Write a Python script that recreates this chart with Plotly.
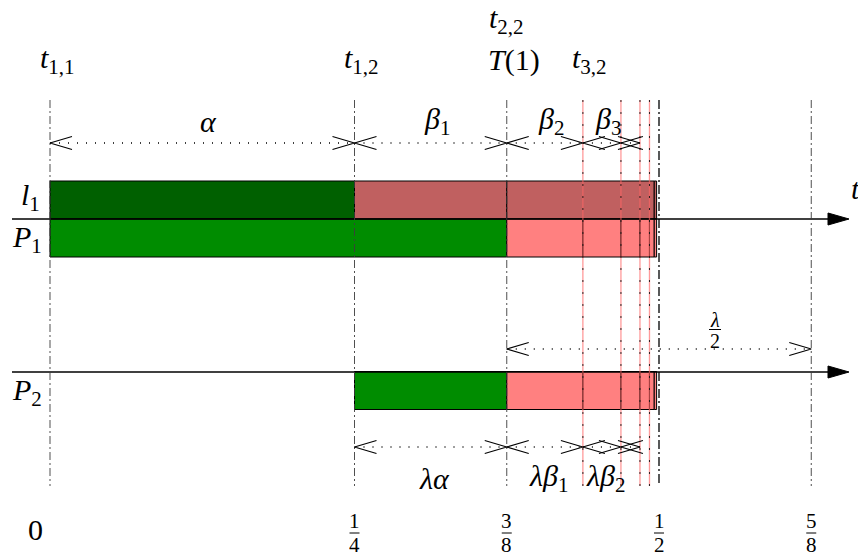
import plotly.graph_objects as go

# ---------------- data ----------------
tick_values = [0, 1/4, 3/8, 1/2, 5/8]
tick_numerators = ["0", "1", "3", "1", "5"]
tick_denominators = [None, "4", "8", "2", "8"]

# geometric subdivision of [3/8, 1/2]
seg_bounds = [3/8, 7/16, 15/32, 31/64, 63/128, 127/256, 255/512]
red_guides = [7/16, 15/32, 31/64, 63/128]
grey_guides = [0, 1/4, 3/8, 5/8]
black_guides = [1/2]

# bars: (start, end, colour-key)
l1_pieces = [(0, 1/4, "dark"), (1/4, 3/8, "brown"), (3/8, 127/256, "brown"), (127/256, 255/512, "brown")]
p1_green = (0, 3/8)
p2_green = (1/4, 3/8)

top_dims = [(0, 1/4, "<i>α</i>"), (1/4, 3/8, "<i>β</i><sub>1</sub>"),
            (3/8, 7/16, "<i>β</i><sub>2</sub>"), (7/16, 15/32, "<i>β</i><sub>3</sub>"),
            (15/32, 31/64, "")]
bottom_dims = [(1/4, 3/8, "<i>λα</i>"), (3/8, 7/16, "<i>λβ</i><sub>1</sub>"),
               (7/16, 15/32, "<i>λβ</i><sub>2</sub>"), (15/32, 31/64, "")]
lambda_dim = (3/8, 5/8)

top_labels = [(0, "<i>t</i><sub>1,1</sub>"), (1/4, "<i>t</i><sub>1,2</sub>"),
              (3/8, "<i>T</i>(1)"), (7/16, "<i>t</i><sub>3,2</sub>")]
t22_label = (3/8, "<i>t</i><sub>2,2</sub>")

# ---------------- layout constants ----------------
W, H = 858, 559
PX = 1218.0                      # pixels per time unit
X0PX = 50                        # pixel column of t = 0
XMIN, XMAX = -X0PX / PX, (W - X0PX) / PX
ROW_L1, ROW_P1, ROW_P2 = 200, 238, 390.5
BAR_W = 38
AXIS1_Y, AXIS2_Y = 219, 372
DIM_TOP, DIM_BOT, DIM_LAM = 143, 447, 349
GUIDE_TOP, GUIDE_BOT = 100, 486
AXIS_START, AXIS_BASE, AXIS_TIP = (12 - X0PX) / PX, (828 - X0PX) / PX, (849 - X0PX) / PX
CHEV_L, CHEV_H = 22 / PX, 6.5

COL = {"dark": "#006000", "green": "#008c00", "brown": "#c06060", "pink": "#ff8080"}
FONT = "Liberation Serif"

fig = go.Figure()


def hbar(row, a, b, colour):
    fig.add_trace(go.Bar(orientation="h", y=[row], x=[b - a], base=[a], width=BAR_W,
                         marker=dict(color=COL[colour], line=dict(color="black", width=1)),
                         showlegend=False, hoverinfo="skip"))


for a, b, c in l1_pieces:
    hbar(ROW_L1, a, b, c)
hbar(ROW_P1, p1_green[0], p1_green[1], "green")
hbar(ROW_P2, p2_green[0], p2_green[1], "green")
for a, b in zip(seg_bounds[:-1], seg_bounds[1:]):
    hbar(ROW_P1, a, b, "pink")
    hbar(ROW_P2, a, b, "pink")


def line(xs, ys, color="black", width=1, dash="solid", fill=None):
    fig.add_trace(go.Scatter(x=xs, y=ys, mode="lines", fill=fill, fillcolor=color,
                             line=dict(color=color, width=width, dash=dash),
                             showlegend=False, hoverinfo="skip", cliponaxis=False))


# horizontal axes with arrows
for yy in (AXIS1_Y, AXIS2_Y):
    line([AXIS_START, AXIS_BASE], [yy, yy], width=1.3)
    line([AXIS_BASE, AXIS_TIP, AXIS_BASE, AXIS_BASE], [yy - 6, yy, yy + 6, yy - 6], fill="toself")

# vertical guides
for v in grey_guides:
    line([v, v], [GUIDE_TOP, GUIDE_BOT], color="rgba(60,60,60,0.9)", width=1, dash="8px,3px,2px,3px")
for v in red_guides:
    line([v, v], [GUIDE_TOP, GUIDE_BOT], color="rgba(255,100,100,0.65)", width=1.3)
    line([v, v], [GUIDE_TOP, GUIDE_BOT], color="rgba(20,20,20,0.9)", width=1, dash="2px,10px")
for v in black_guides:
    line([v, v], [GUIDE_TOP, GUIDE_BOT], color="black", width=1.3, dash="9px,3px,2px,3px")


def dim(a, b, yy, left=True, right=True):
    line([a, b], [yy, yy], width=1.4, dash="1px,8px")
    if left:
        line([a + CHEV_L, a, a + CHEV_L], [yy - CHEV_H, yy, yy + CHEV_H], width=1.1)
    if right:
        line([b - CHEV_L, b, b - CHEV_L], [yy - CHEV_H, yy, yy + CHEV_H], width=1.1)


annotations = []


def text(x, y, s, size=30, xshift=0, xanchor="center", height=None):
    ann = dict(x=x, y=y, xref="x", yref="y", text=s, showarrow=False,
               xanchor=xanchor, yanchor="middle", xshift=xshift,
               font=dict(family=FONT, size=size, color="black"))
    if height:
        ann["height"] = height
    annotations.append(ann)


for a, b, s in top_dims:
    dim(a, b, DIM_TOP)
    if s:
        text((a + b) / 2, DIM_TOP - 22, s, xshift=6)
for a, b, s in bottom_dims:
    dim(a, b, DIM_BOT)
    if s:
        text((a + b) / 2, DIM_BOT + 31, s, xshift=4)
dim(lambda_dim[0], lambda_dim[1], DIM_LAM)
lam_x = (lambda_dim[0] + lambda_dim[1]) / 2
text(lam_x, DIM_LAM - 30, "<i>λ</i>", size=20, xshift=56, height=15)
text(lam_x, DIM_LAM - 9, "2", size=20, xshift=56, height=15)
line([lam_x + 50 / PX, lam_x + 62 / PX], [DIM_LAM - 19.5, DIM_LAM - 19.5], width=1)

# top labels
for x, s in top_labels:
    text(x, 60, s, xshift=7)
text(t22_label[0], 20, t22_label[1], xshift=0)

# left labels
text(0, 197, "<i>l</i><sub>1</sub>", xshift=-8, xanchor="right")
text(0, 239, "<i>P</i><sub>1</sub>", xshift=-6, xanchor="right")
text(0, 392, "<i>P</i><sub>2</sub>", xshift=-6, xanchor="right")
text(AXIS_TIP, 188, "<i>t</i>", xshift=6)

# bottom tick labels
for v, num, den in zip(tick_values, tick_numerators, tick_denominators):
    if den is None:
        text(v, 529, num, xshift=-15)
    else:
        text(v, 521, num, size=21, height=18)
        text(v, 545, den, size=21, height=18)
        line([v - 5 / PX, v + 5 / PX], [533, 533], width=1)

fig.update_layout(
    width=W, height=H, margin=dict(l=0, r=0, t=0, b=0),
    paper_bgcolor="white", plot_bgcolor="white", barmode="overlay",
    xaxis=dict(range=[XMIN, XMAX], visible=False, fixedrange=True),
    yaxis=dict(range=[H, 0], visible=False, fixedrange=True),
    annotations=annotations, showlegend=False,
)

fig.write_html("out.html", config={"displayModeBar": False},
               post_script="document.body.style.margin='0';document.body.style.overflow='hidden';")
